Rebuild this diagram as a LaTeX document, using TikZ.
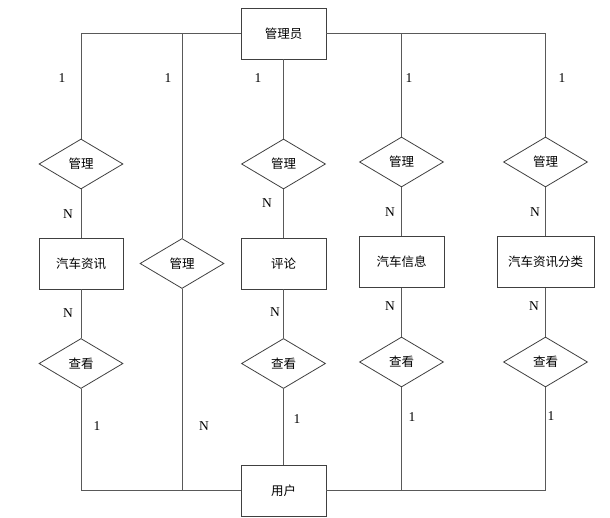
\documentclass[tikz,border=0pt]{standalone}
\usepackage{fontspec}
\setmainfont{Liberation Serif}
\newfontfamily\cjk{Noto Sans CJK SC}
\usetikzlibrary{shapes.geometric}
\begin{document}
\begin{tikzpicture}[x=1pt,y=-1pt,
  ent/.style={draw=black!75,line width=0.9pt,minimum width=85pt,minimum height=51pt,inner sep=0pt,font=\cjk\fontsize{12.5}{14}\selectfont},
  rel/.style={diamond,draw=black!75,line width=0.8pt,minimum width=84pt,minimum height=50pt,inner sep=0pt,font=\cjk\fontsize{12.5}{14}\selectfont},
  conn/.style={draw=black!65,line width=0.9pt},
  card/.style={font=\fontsize{13.5}{15}\selectfont,inner sep=0pt}]
\useasboundingbox (0,0) rectangle (610,518);
% entities
\node[ent] (admin) at (283.5,33.5) {管理员};
\node[ent,minimum width=84pt] (e1) at (81,263.5) {汽车资讯};
\node[ent] (e3) at (283.5,263.5) {评论};
\node[ent] (e4) at (401.5,262) {汽车信息};
\node[ent,minimum width=97pt] (e5) at (545.5,262) {汽车资讯分类};
\node[ent] (user) at (283.5,490.5) {用户};
% relations
\node[rel] (m1) at (81,164) {管理};
\node[rel] (m2) at (182,263.5) {管理};
\node[rel] (m3) at (283.5,164) {管理};
\node[rel] (m4) at (401.5,162) {管理};
\node[rel] (m5) at (545.5,162) {管理};
\node[rel] (v1) at (81,363.5) {查看};
\node[rel] (v3) at (283.5,363.5) {查看};
\node[rel] (v4) at (401.5,362) {查看};
\node[rel] (v5) at (545.5,362) {查看};
% connectors
\draw[conn] (admin.west) -| (m1.north);
\draw[conn] (admin.west) -| (m2.north);
\draw[conn] (admin.south) -- (m3.north);
\draw[conn] (admin.east) -| (m4.north);
\draw[conn] (admin.east) -| (m5.north);
\draw[conn] (m1.south) -- (e1.north);
\draw[conn] (m3.south) -- (e3.north);
\draw[conn] (m4.south) -- (e4.north);
\draw[conn] (m5.south) -- (e5.north);
\draw[conn] (e1.south) -- (v1.north);
\draw[conn] (e3.south) -- (v3.north);
\draw[conn] (e4.south) -- (v4.north);
\draw[conn] (e5.south) -- (v5.north);
\draw[conn] (v1.south) |- (user.west);
\draw[conn] (m2.south) |- (user.west);
\draw[conn] (v3.south) -- (user.north);
\draw[conn] (v4.south) |- (user.east);
\draw[conn] (v5.south) |- (user.east);
% cardinalities
\node[card] (c1) at (62,78) {1};
\node[card] (c2) at (168,78) {1};
\node[card] (c3) at (258,78) {1};
\node[card] (c4) at (409,78) {1};
\node[card] (c5) at (562,78) {1};
\node[card] (n1) at (68,214) {N};
\node[card] (n3) at (267,203) {N};
\node[card] (n4) at (390,212) {N};
\node[card] (n5) at (535,212) {N};
\node[card] (p1) at (68,313) {N};
\node[card] (p3) at (275,312) {N};
\node[card] (p4) at (390,306) {N};
\node[card] (p5) at (534,306) {N};
\node[card] (u1) at (97,426) {1};
\node[card] (u2) at (204,426) {N};
\node[card] (u3) at (297,419) {1};
\node[card] (u4) at (412,417) {1};
\node[card] (u5) at (551,416) {1};
\end{tikzpicture}
\end{document}
